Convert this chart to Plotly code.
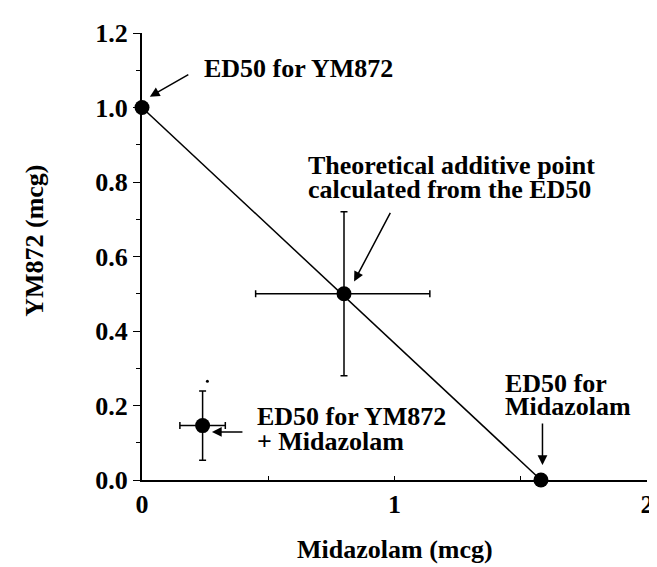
import plotly.graph_objects as go

# Data
ed50_x = [0.0, 1.58]          # ED50 points (YM872 alone, Midazolam alone)
ed50_y = [1.0, 0.0]
theo_x = [0.80]               # theoretical additive point
theo_y = [0.50]
theo_ex_minus = [0.35]
theo_ex_plus = [0.34]
theo_ey = [0.22]
comb_x = [0.24]               # observed combination ED50
comb_y = [0.146]
comb_ex = [0.09]
comb_ey = [0.093]
speck_x = [0.259]
speck_y = [0.265]

FONT = "Liberation Serif, Tinos, Times New Roman, Times, serif"
fig = go.Figure()

fig.add_trace(go.Scatter(x=ed50_x, y=ed50_y, mode="lines",
                         line=dict(color="black", width=1.5),
                         showlegend=False, cliponaxis=False))
fig.add_trace(go.Scatter(x=ed50_x, y=ed50_y, mode="markers",
                         marker=dict(color="black", size=15),
                         showlegend=False, cliponaxis=False))
fig.add_trace(go.Scatter(x=theo_x, y=theo_y, mode="markers",
                         marker=dict(color="black", size=15),
                         error_x=dict(type="data", symmetric=False, array=theo_ex_plus,
                                      arrayminus=theo_ex_minus, color="black",
                                      thickness=1.5, width=3.5),
                         error_y=dict(type="data", array=theo_ey, color="black",
                                      thickness=1.5, width=3.5),
                         showlegend=False, cliponaxis=False))
fig.add_trace(go.Scatter(x=comb_x, y=comb_y, mode="markers",
                         marker=dict(color="black", size=15),
                         error_x=dict(type="data", array=comb_ex, color="black",
                                      thickness=1.5, width=3.5),
                         error_y=dict(type="data", array=comb_ey, color="black",
                                      thickness=1.5, width=3.5),
                         showlegend=False, cliponaxis=False))
fig.add_trace(go.Scatter(x=speck_x, y=speck_y, mode="markers",
                         marker=dict(color="black", size=3),
                         showlegend=False, cliponaxis=False))

tf = dict(family=FONT, size=26, color="black", weight="bold")
ann = []
def txt(x, y, t, xa="left"):
    ann.append(dict(x=x, y=y, xref="x", yref="y", text=t, showarrow=False,
                    xanchor=xa, yanchor="middle", font=tf))
def arrow(x, y, ax, ay):
    ann.append(dict(x=x, y=y, xref="x", yref="y", text="", showarrow=True,
                    ax=ax, ay=ay, arrowhead=2, arrowsize=1.3, arrowwidth=1.5,
                    arrowcolor="black"))

txt(0.238, 1.1055, "ED50 for YM872")
arrow(0.031, 1.029, 40, -23)
txt(0.648, 0.844, "Theoretical additive point")
txt(0.648, 0.781, "calculated from the ED50")
arrow(0.840, 0.533, 37, -70)
txt(0.449, 0.1715, "ED50 for YM872")
txt(0.449, 0.103, "+ Midazolam")
arrow(0.277, 0.129, 32, 0)
txt(1.43, 0.2586, "ED50 for")
txt(1.43, 0.198, "Midazolam")
arrow(1.586, 0.040, 0, -43)

ann.append(dict(x=0.5, y=-0.156, xref="paper", yref="paper", text="Midazolam (mcg)",
                showarrow=False, xanchor="center", yanchor="middle", font=tf))
ann.append(dict(x=-0.213, y=0.536, xref="paper", yref="paper", text="YM872 (mcg)",
                showarrow=False, xanchor="center", yanchor="middle", textangle=-90, font=tf))

fig.update_layout(
    width=657, height=567,
    margin=dict(l=134, r=11, t=17, b=95),
    paper_bgcolor="white", plot_bgcolor="white",
    annotations=ann,
    xaxis=dict(range=[0, 2], tickvals=[0, 1, 2], ticktext=["0", "1", "2"],
               showgrid=False, zeroline=False, showline=True, linecolor="black",
               linewidth=1.5, ticks="inside", ticklen=4, tickcolor="black",
               tickfont=tf, ticklabelstandoff=0,
               minor=dict(tickvals=[0.5, 1.5], ticks="inside", ticklen=4, tickcolor="black")),
    yaxis=dict(range=[0, 1.2], tickvals=[0, 0.2, 0.4, 0.6, 0.8, 1.0, 1.2],
               ticktext=["0.0", "0.2", "0.4", "0.6", "0.8", "1.0", "1.2"],
               showgrid=False, zeroline=False, showline=True, linecolor="black",
               linewidth=2, ticks="outside", ticklen=7, tickcolor="black",
               tickfont=tf,
               minor=dict(tickvals=[0.1, 0.3, 0.5, 0.7, 0.9, 1.1], ticks="outside",
                          ticklen=4, tickcolor="black")),
)

fig.write_html("out.html")
